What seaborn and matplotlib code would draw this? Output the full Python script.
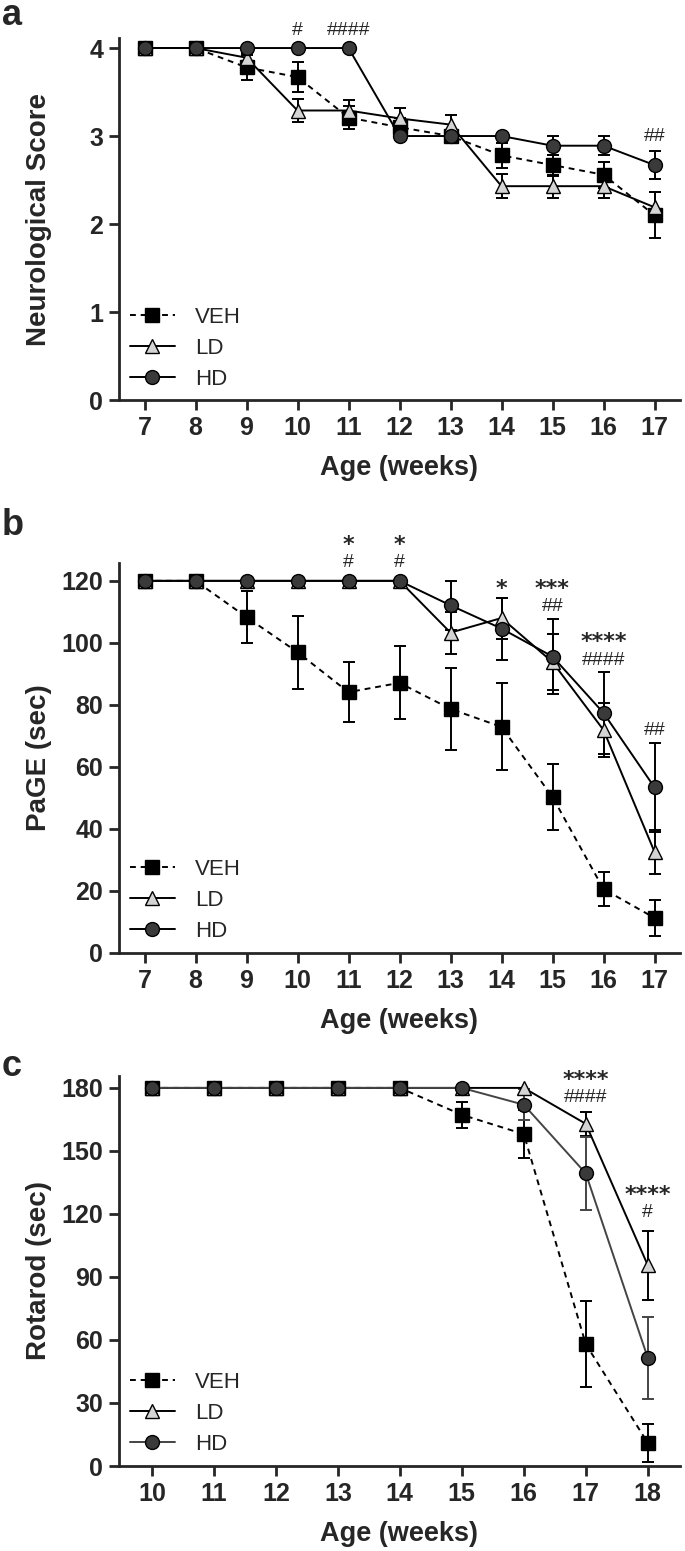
import numpy as np
import pandas as pd
import matplotlib
matplotlib.use('Agg')
import matplotlib.pyplot as plt
import seaborn as sns

# valores
weeks_ab = [7, 8, 9, 10, 11, 12, 13, 14, 15, 16, 17]
weeks_c = [10, 11, 12, 13, 14, 15, 16, 17, 18]
groups = ['VEH', 'LD', 'HD']

neuro_veh = [4, 4, 3.78, 3.67, 3.21, 3.10, 3.00, 2.78, 2.67, 2.56, 2.10]
neuro_veh_sem = [0, 0, 0.14, 0.17, 0.13, 0.10, 0.05, 0.14, 0.12, 0.15, 0.26]
neuro_ld = [4, 4, 3.89, 3.29, 3.29, 3.20, 3.13, 2.43, 2.43, 2.43, 2.19]
neuro_ld_sem = [0, 0, 0.05, 0.13, 0.12, 0.12, 0.11, 0.14, 0.13, 0.13, 0.17]
neuro_hd = [4, 4, 4, 4, 4, 3.0, 3.0, 3.0, 2.89, 2.89, 2.67]
neuro_hd_sem = [0, 0, 0, 0, 0, 0, 0, 0, 0.11, 0.11, 0.16]

page_veh = [120, 120, 108.3, 97.0, 84.1, 87.1, 78.7, 72.9, 50.3, 20.6, 11.3]
page_veh_sem = [0, 0, 8.4, 11.8, 9.7, 11.8, 13.3, 14.0, 10.6, 5.4, 5.8]
page_ld = [120, 120, 120, 120, 120, 120, 103.3, 108.0, 93.8, 71.9, 32.6]
page_ld_sem = [0, 0, 0, 0, 0, 0, 6.8, 6.6, 9.0, 8.8, 7.0]
page_hd = [120, 120, 120, 120, 120, 120, 112.1, 104.6, 95.6, 77.4, 53.4]
page_hd_sem = [0, 0, 0, 0, 0, 0, 8.0, 10.0, 12.0, 13.3, 14.3]

rota_veh = [180, 180, 180, 180, 180, 167.2, 158.0, 58.0, 11.0]
rota_veh_sem = [0, 0, 0, 0, 0, 6.3, 11.5, 20.4, 9.0]
rota_ld = [180, 180, 180, 180, 180, 180, 180, 162.9, 95.6]
rota_ld_sem = [0, 0, 0, 0, 0, 0, 0, 5.6, 16.4]
rota_hd = [180, 180, 180, 180, 180, 180, 172.0, 139.3, 51.5]
rota_hd_sem = [0, 0, 0, 0, 0, 0, 7.5, 17.5, 19.5]

# marcas de significancia (semana, y, texto)
marks_a = [(10, 4.2, '#'), (11, 4.2, '####'), (17, 3.0, '##')]
marks_b = [(11, 133.5, '*'), (11, 126.0, '#'), (12, 133.5, '*'), (12, 126.0, '#'),
           (14, 119.0, '*'), (15, 119.3, '***'), (15, 111.6, '##'),
           (16, 102.0, '****'), (16, 94.3, '####'), (17, 71.7, '##')]
marks_c = [(17, 186.6, '****'), (17, 175.2, '####'), (18, 131.6, '****'), (18, 120.5, '#')]

sns.set_style('ticks')
plt.rcParams['font.family'] = ['Liberation Sans', 'DejaVu Sans']
narrow = ['Liberation Sans Narrow', 'Liberation Sans']


def make_df(weeks, series):
    rows = []
    for g, (vals, sems) in zip(groups, series):
        for w, v, s in zip(weeks, vals, sems):
            rows.append({'week': w, 'value': v, 'sem': s, 'group': g})
    return pd.DataFrame(rows)


styles = {
    'VEH': dict(marker='s', color='black', markerfacecolor='black', linestyle=(0, (3, 2.5))),
    'LD': dict(marker='^', color='black', markerfacecolor='#d4d4d4', linestyle='-'),
    'HD': dict(marker='o', color='black', markerfacecolor='#3a3a3a', linestyle='-'),
}


def draw_panel(ax, df, xlim, ylim, yticks, ylabel, marks, hd_line='black'):
    for g in groups:
        sub = df[df['group'] == g]
        st = dict(styles[g])
        if g == 'HD':
            st['color'] = hd_line
        err = sub[sub['sem'] > 0]
        ax.errorbar(err['week'], err['value'], yerr=err['sem'], fmt='none',
                    ecolor=st['color'], elinewidth=1.4, capsize=4.5, capthick=1.4, zorder=2)
        sns.lineplot(data=sub, x='week', y='value', ax=ax, label=g, errorbar=None,
                     linewidth=1.4, markersize=10, markeredgecolor='black',
                     markeredgewidth=1.0, zorder=3, **st)
    ax.set_xlim(*xlim)
    ax.set_ylim(*ylim)
    ax.set_xticks(sorted(df['week'].unique()))
    ax.set_yticks(yticks)
    sns.despine(ax=ax)
    for s in ['left', 'bottom']:
        ax.spines[s].set_linewidth(2.0)
    ax.tick_params(width=2.0, length=7.5, pad=4, labelsize=18)
    for lab in ax.get_xticklabels() + ax.get_yticklabels():
        lab.set_fontweight('bold')
    ax.set_ylabel(ylabel, fontsize=20, fontweight='bold')
    ax.set_xlabel('Age (weeks)', fontsize=19.5, fontweight='bold', labelpad=11)
    ax.yaxis.set_label_coords(-0.12, 0.5)
    for x, y, t in marks:
        if '*' in t:
            # o asterisco fica alto na caixa do texto: desce um pouco
            fs = 16
            ax.annotate(t, (x, y), xytext=(0, -0.25 * fs), textcoords='offset points',
                        ha='center', va='center', fontsize=fs, fontweight='bold',
                        family=['DejaVu Sans'], annotation_clip=False)
        else:
            ax.text(x, y, t, ha='center', va='center', fontsize=14,
                    family=['Liberation Sans'], clip_on=False)
    ax.legend(loc='lower left', bbox_to_anchor=(0.02, 0.028), frameon=False,
              prop={'family': narrow, 'size': 16},
              handlelength=2.0, handletextpad=0.9, labelspacing=0.45,
              borderpad=0, borderaxespad=0)


fig = plt.figure(figsize=(6.85, 15.51), dpi=100)
left, width = 119 / 685, 561 / 685
ax_a = fig.add_axes([left, 0.7421, width, 0.2334])
ax_b = fig.add_axes([left, 0.3856, width, 0.2515])
ax_c = fig.add_axes([left, 0.0548, width, 0.2515])

df_a = make_df(weeks_ab, [(neuro_veh, neuro_veh_sem), (neuro_ld, neuro_ld_sem), (neuro_hd, neuro_hd_sem)])
df_b = make_df(weeks_ab, [(page_veh, page_veh_sem), (page_ld, page_ld_sem), (page_hd, page_hd_sem)])
df_c = make_df(weeks_c, [(rota_veh, rota_veh_sem), (rota_ld, rota_ld_sem), (rota_hd, rota_hd_sem)])

draw_panel(ax_a, df_a, (6.5, 17.5), (0, 4.114), [0, 1, 2, 3, 4], 'Neurological Score', marks_a)
draw_panel(ax_b, df_b, (6.5, 17.5), (0, 125.8), [0, 20, 40, 60, 80, 100, 120], 'PaGE (sec)', marks_b)
draw_panel(ax_c, df_c, (9.47, 18.52), (0, 185.7), [0, 30, 60, 90, 120, 150, 180], 'Rotarod (sec)',
           marks_c, hd_line='#444444')

for lbl, y in [('a', 0.984), ('b', 0.655), ('c', 0.306)]:
    fig.text(0.003, y, lbl, fontsize=26, fontweight='bold', ha='left', va='baseline')

fig.savefig('out.png', dpi=100)
